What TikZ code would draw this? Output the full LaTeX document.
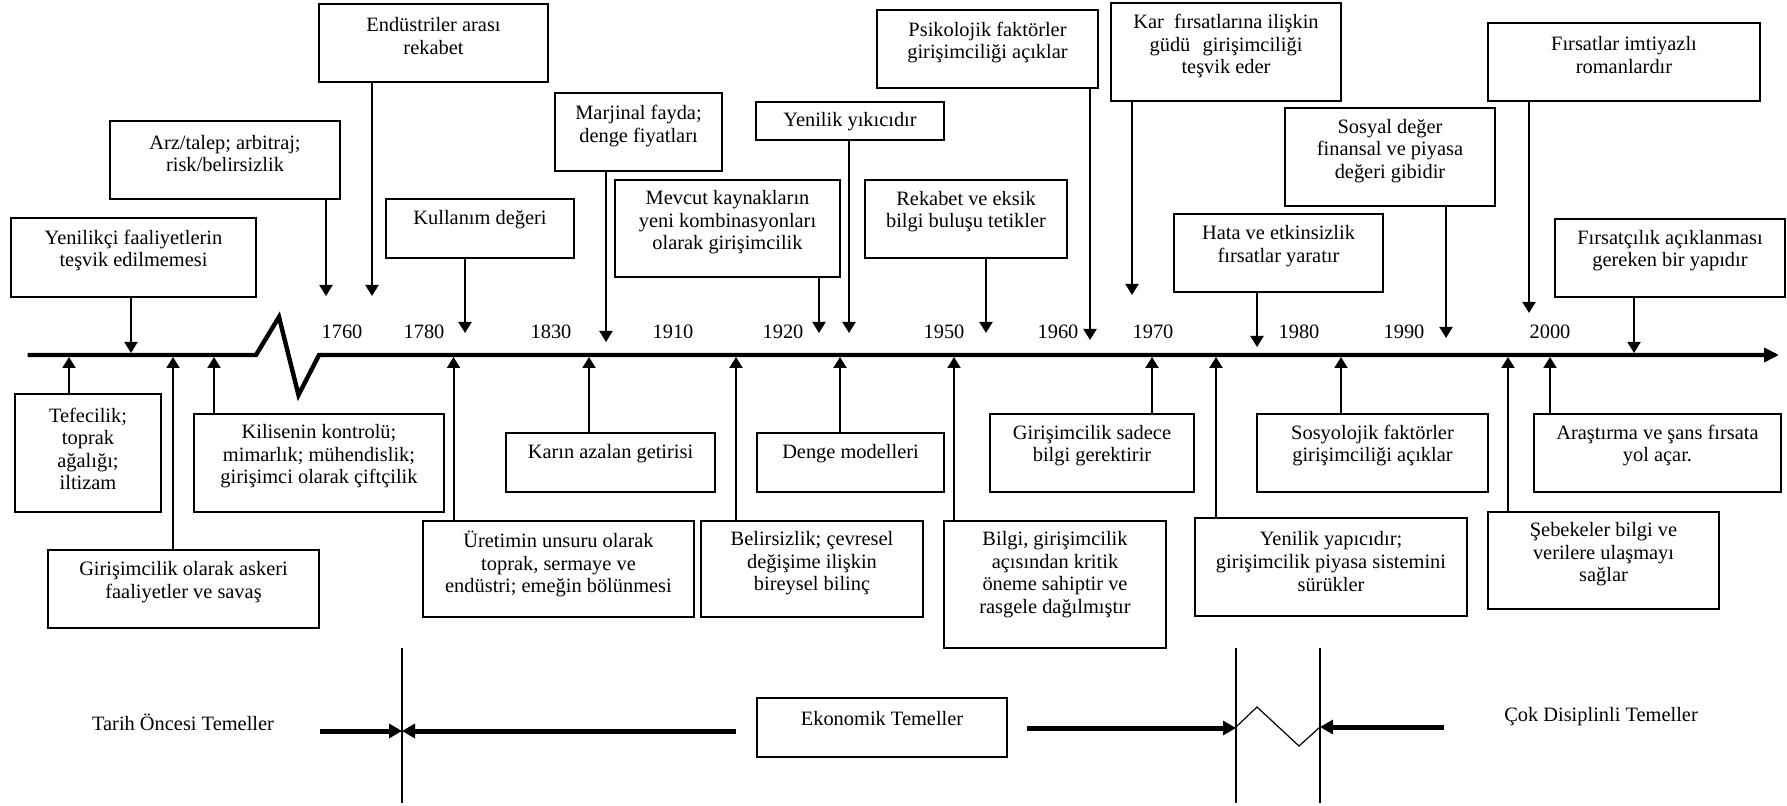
\documentclass[tikz,border=0pt]{standalone}
\usepackage{fontspec}
\setmainfont{Liberation Serif}
\usetikzlibrary{arrows.meta}
\newcommand{\myfs}{\fontsize{10.2pt}{11.3pt}\selectfont}
\tikzset{
 bx/.style={draw, line width=0.6pt, rectangle, inner sep=0pt, outer sep=0pt},
 tx/.style={align=center, inner sep=0pt, font=\myfs},
 arr/.style={line width=1pt, -{Triangle[length=5.5pt,width=6.5pt]}},
 tl/.style={line width=2.2pt, line join=miter, -{Triangle[length=7.5pt,width=7pt]}},
 barr/.style={line width=2.5pt, -{Triangle[length=6.5pt,width=7pt]}},
 thinln/.style={line width=0.6pt},
}
% name, x1, y1, x2, y2, text-center y, text
\newcommand{\mybox}[7]{%
 \node[bx, minimum width={(#4-#2)*0.5pt}, minimum height={(#5-#3)*0.5pt}] (#1) at ({(#2+#4)/2},{(#3+#5)/2}) {};
 \node[tx] (#1t) at ({(#2+#4)/2},#6) {#7};
}
\newcommand{\dn}[3]{\coordinate (#1a) at (#2,#3); \draw[arr] (#1a |- #1.south) -- (#1a);}
\newcommand{\upa}[3]{\coordinate (#1a) at (#2,#3); \draw[arr] (#1a |- #1.north) -- (#1a);}
\begin{document}
\begin{tikzpicture}[x=0.5pt,y=-0.5pt]
\useasboundingbox (0,0) rectangle (1787,806);
% timeline
\coordinate (tl0) at (27.6,355);
\coordinate (tl1) at (256,355);
\coordinate (tl2) at (279,317);
\coordinate (tl3) at (298.5,395);
\coordinate (tl4) at (319,355);
\coordinate (tl5) at (1779,355);
\draw[tl] (tl0) -- (tl1) -- (tl2) -- (tl3) -- (tl4) -- (tl5);
% years
\foreach \yr/\xx in {1760/342,1780/424,1830/551,1910/673,1920/783,1950/944,1960/1058,1970/1153,1980/1299,1990/1404,2000/1550}
 \node[tx] (y\yr) at (\xx,332) {\yr};
% top boxes
\mybox{yen}{11}{218}{256}{297}{250.5}{Yenilikçi faaliyetlerin\\teşvik edilmemesi}
\dn{yen}{131}{353}
\mybox{arz}{110}{121}{340}{199}{153.5}{Arz/talep; arbitraj;\\risk/belirsizlik}
\dn{arz}{326}{296}
\mybox{end}{319}{4}{548}{82}{36}{Endüstriler arası\\rekabet}
\dn{end}{372}{296}
\mybox{kul}{386}{199}{574}{258}{220}{Kullanım değeri}
\dn{kul}{465}{333}
\mybox{mar}{555}{93}{722}{171}{126}{Marjinal fayda;\\denge fiyatları}
\dn{mar}{606}{342}
\mybox{mev}{615}{180}{840}{277}{222.5}{Mevcut kaynakların\\yeni kombinasyonları\\olarak girişimcilik}
\dn{mev}{819}{333}
\mybox{yyk}{756}{102}{944}{140}{122}{Yenilik yıkıcıdır}
\dn{yyk}{849}{333}
\mybox{rek}{865}{180}{1067}{258}{211.5}{Rekabet ve eksik\\bilgi buluşu tetikler}
\dn{rek}{986}{333}
\mybox{psi}{877}{10}{1098}{88}{42.5}{Psikolojik faktörler\\girişimciliği açıklar}
\dn{psi}{1090}{340}
\mybox{kar}{1111}{3}{1341}{101}{46}{Kar\hspace{0.5em}fırsatlarına ilişkin\\güdü\hspace{0.6em}girişimciliği\\teşvik eder}
\dn{kar}{1132}{295}
\mybox{hata}{1174}{214}{1383}{292}{246}{Hata ve etkinsizlik\\fırsatlar yaratır}
\dn{hata}{1257}{347}
\mybox{sos}{1285}{108}{1495}{206}{151}{Sosyal değer\\finansal ve piyasa\\değeri gibidir}
\dn{sos}{1446}{338}
\mybox{fim}{1488}{23}{1760}{101}{55}{Fırsatlar imtiyazlı\\romanlardır}
\dn{fim}{1529}{313}
\mybox{fac}{1555}{219}{1785}{297}{250.5}{Fırsatçılık açıklanması\\gereken bir yapıdır}
\dn{fac}{1634}{353}
% bottom boxes
\mybox{tef}{15}{394}{161}{512}{449}{Tefecilik;\\toprak\\ağalığı;\\iltizam}
\upa{tef}{69}{357}
\mybox{kil}{194}{414}{444}{512}{456.5}{Kilisenin kontrolü;\\mimarlık; mühendislik;\\girişimci olarak çiftçilik}
\upa{kil}{214}{357}
\mybox{ask}{48}{550}{319}{628}{582}{Girişimcilik olarak askeri\\faaliyetler ve savaş}
\upa{ask}{173}{357}
\mybox{ure}{423}{521}{694}{617}{564}{Üretimin unsuru olarak\\toprak, sermaye ve\\endüstri; emeğin bölünmesi}
\upa{ure}{453.5}{357}
\mybox{kaz}{506}{433}{715}{492}{454}{Karın azalan getirisi}
\upa{kaz}{589}{357}
\mybox{bel}{701}{521}{923}{617}{563.5}{Belirsizlik; çevresel\\değişime ilişkin\\bireysel bilinç}
\upa{bel}{736}{357}
\mybox{den}{757}{433}{944}{492}{454}{Denge modelleri}
\upa{den}{840}{357}
\mybox{bil}{944}{521}{1166}{648}{574.5}{Bilgi, girişimcilik\\açısından kritik\\öneme sahiptir ve\\rasgele dağılmıştır}
\upa{bil}{954}{357}
\mybox{gsa}{990}{414}{1194}{492}{445.5}{Girişimcilik sadece\\bilgi gerektirir}
\upa{gsa}{1152}{357}
\mybox{yya}{1195}{518}{1467}{616}{561.5}{Yenilik yapıcıdır;\\girişimcilik piyasa sistemini\\sürükler}
\upa{yya}{1216}{357}
\mybox{soy}{1257}{414}{1488}{492}{445.5}{Sosyolojik faktörler\\girişimciliği açıklar}
\upa{soy}{1341}{357}
\mybox{seb}{1488}{512}{1719}{609}{554.5}{Şebekeler bilgi ve\\verilere ulaşmayı\\sağlar}
\upa{seb}{1508}{357}
\mybox{ara}{1534}{414}{1781}{492}{445.5}{Araştırma ve şans fırsata\\yol açar.}
\upa{ara}{1550}{357}
% bottom section
\node[tx] (tar) at (183,722) {Tarih Öncesi Temeller};
\mybox{eko}{757}{698}{1007}{757}{719}{Ekonomik Temeller}
\node[tx] (cok) at (1601,717) {Çok Disiplinli Temeller};
\draw[thinln] (402,648) -- (402,803);
\draw[thinln] (1236,648) -- (1236,803);
\draw[thinln] (1320,648) -- (1320,803);
\draw[thinln] (1236,727) -- (1257,707) -- (1299,746) -- (1320,727);
\coordinate (b1) at (320,731);
\coordinate (b2) at (402,731);
\coordinate (b3) at (736,731);
\coordinate (b4) at (1027,728);
\coordinate (b5) at (1236,728);
\coordinate (b6) at (1444,727);
\coordinate (b7) at (1320,727);
\draw[barr] (b1) -- (b2);
\draw[barr] (b3) -- (b2);
\draw[barr] (b4) -- (b5);
\draw[barr] (b6) -- (b7);
\end{tikzpicture}
\end{document}
